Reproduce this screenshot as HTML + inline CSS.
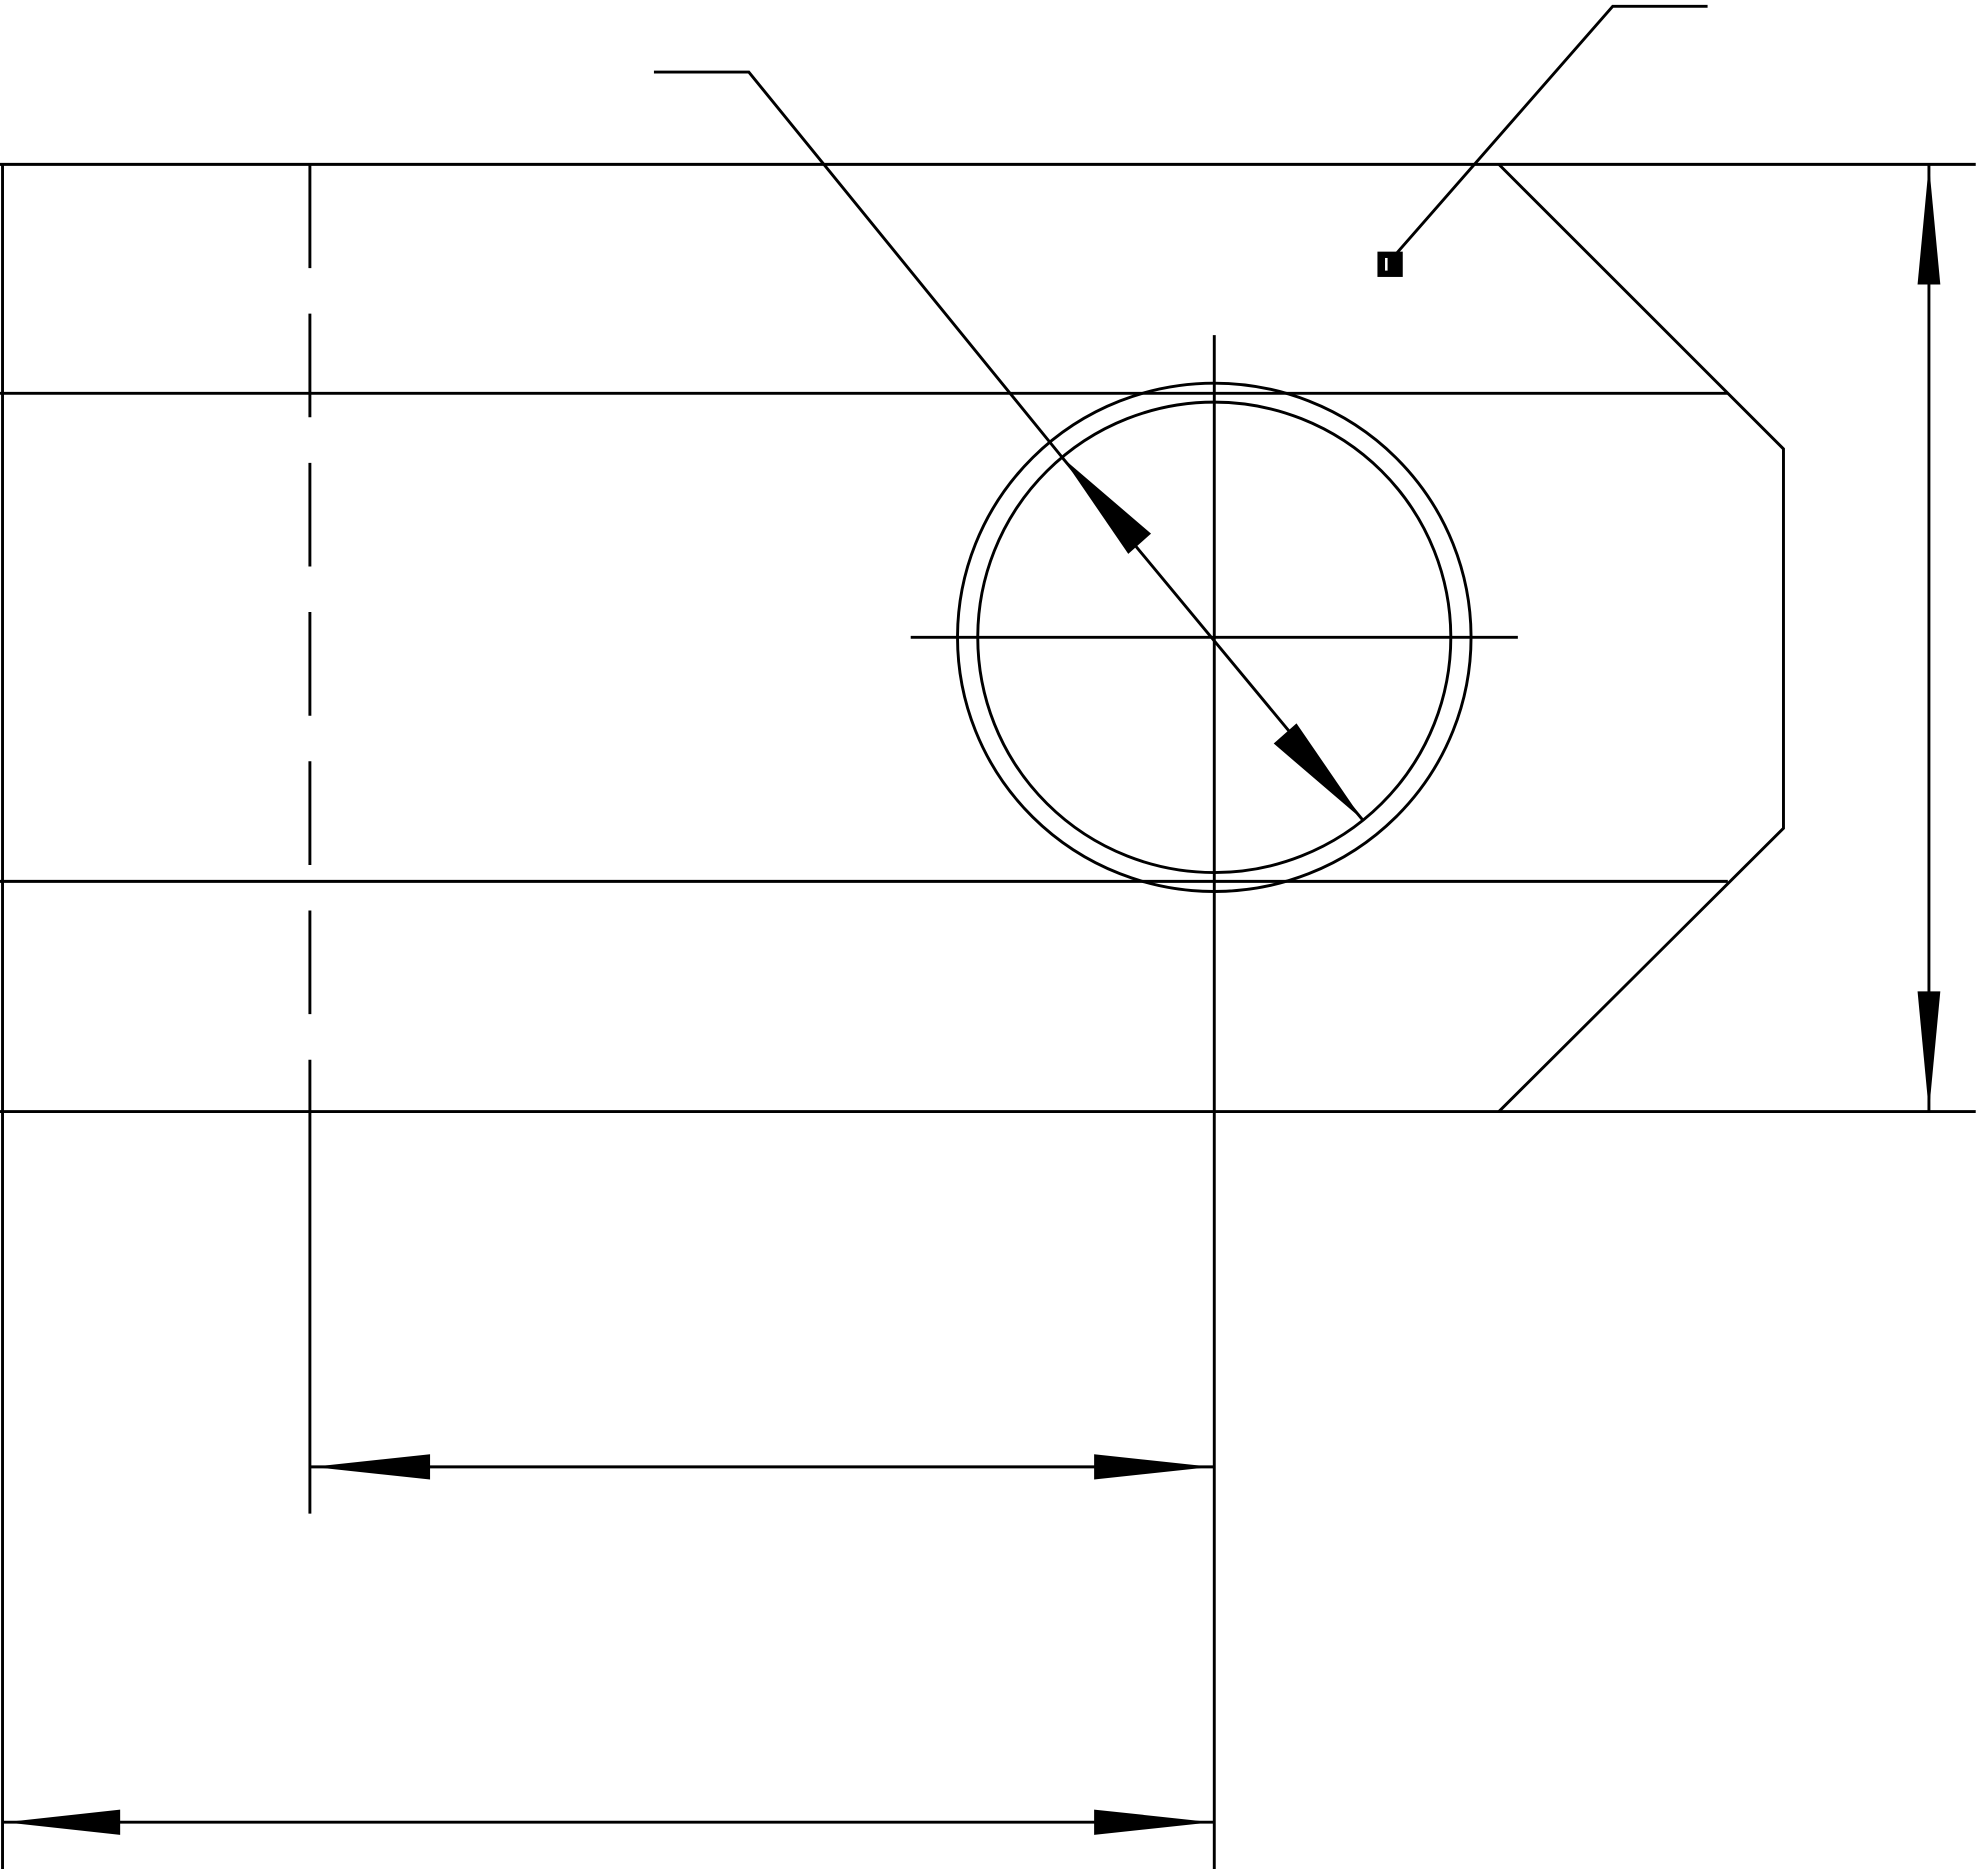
<!DOCTYPE html>
<html><head><style>html,body{margin:0;padding:0;background:#fff;}svg{display:block}</style></head>
<body>
<svg width="1977" height="1869" viewBox="0 0 1563 1478" preserveAspectRatio="none" xmlns="http://www.w3.org/2000/svg">
<g stroke="#000" stroke-width="2.3" fill="none">
<line x1="0" y1="130" x2="1562" y2="130"/>
<line x1="2" y1="130" x2="2" y2="1478"/>
<line x1="0" y1="311" x2="1366" y2="311"/>
<line x1="0" y1="697" x2="1366" y2="697"/>
<line x1="0" y1="879" x2="1562" y2="879"/>
<polyline points="1185,130 1410,355 1410,655 1185,879"/>
<line x1="245" y1="130" x2="245" y2="880" stroke-dasharray="82,36"/>
<line x1="245" y1="880" x2="245" y2="1197"/>
<line x1="960" y1="265" x2="960" y2="1478"/>
<line x1="720" y1="504" x2="1200" y2="504"/>
<ellipse cx="960" cy="504" rx="203" ry="201"/>
<ellipse cx="960" cy="504" rx="187" ry="186"/>
<polyline points="517,57 592,57 840,362"/>
<line x1="840" y1="362" x2="1077" y2="648"/>
<polyline points="1350,5 1275,5 1100,205"/>
<line x1="1525" y1="130" x2="1525" y2="879"/>
<line x1="245" y1="1160" x2="960" y2="1160"/>
<line x1="2" y1="1441" x2="960" y2="1441"/>
</g>
<g fill="#000">
<rect x="1089" y="199" width="20" height="20"/>
<rect x="1095" y="204" width="2" height="10" fill="#fff"/>
<polygon points="840,362 910,422 892,438"/>
<polygon points="1077,648 1007,588 1025,572"/>
<polygon points="1525,130 1516,225 1534,225"/>
<polygon points="1525,879 1516,784 1534,784"/>
<polygon points="247,1160 340,1150 340,1170"/>
<polygon points="958,1160 865,1150 865,1170"/>
<polygon points="4,1441 95,1431 95,1451"/>
<polygon points="958,1441 865,1431 865,1451"/>
</g>
</svg>
</body></html>
